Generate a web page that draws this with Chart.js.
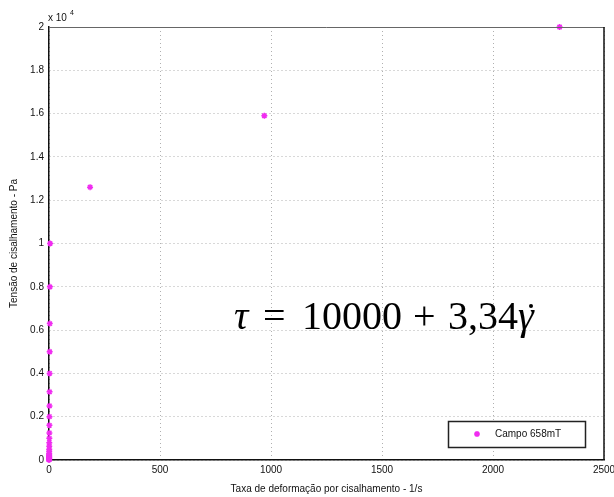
<!DOCTYPE html>
<html>
<head>
<meta charset="utf-8">
<script src="https://cdn.jsdelivr.net/npm/chart.js@4"></script>
<style>
  html, body { margin: 0; padding: 0; background: #fff; }
  #wrap { width: 614px; height: 497px; position: relative; }
</style>
</head>
<body>
<div id="wrap"><canvas id="chart"></canvas></div>
<script>
// data (shear rate in 1/s, shear stress in Pa)
const seriesLabel = 'Campo 658mT';
const shearRate = [0.1, 0.1, 0.2, 0.2, 0.3, 0.3, 0.4, 0.4, 0.5, 0.5, 0.6, 0.7, 0.8, 0.9, 1.0, 1.1, 1.2, 1.4, 1.6, 1.8, 2.0, 2.2, 2.5, 2.8, 3.0, 3.5, 4.0, 5.0, 185, 970, 2300];
const shearStress = [10, 20, 30, 40, 50, 63, 80, 100, 125, 160, 200, 250, 315, 400, 500, 630, 800, 1000, 1250, 1600, 2000, 2500, 3150, 4000, 5000, 6300, 8000, 10000, 12600, 15900, 20000];
const xTicks = [0, 500, 1000, 1500, 2000, 2500];
const xTitle = 'Taxa de deformação por cisalhamento - 1/s';
const yTitle = 'Tensão de cisalhamento - Pa';

const magenta = '#f02cf0';
const tickFont = { family: 'Liberation Sans', size: 10 };

// frame, exponent label, equation and legend box
const extras = {
    id: 'extras',
    afterDraw(chart) {
        const ctx = chart.ctx;
        const a = chart.chartArea;
        ctx.save();
        // top and right frame
        ctx.lineWidth = 1;
        ctx.strokeStyle = '#666';
        ctx.beginPath();
        ctx.moveTo(a.left, a.top + 0.5);
        ctx.lineTo(a.right, a.top + 0.5);
        ctx.stroke();
        ctx.strokeStyle = '#111';
        ctx.lineWidth = 1.5;
        ctx.beginPath();
        ctx.moveTo(a.right, a.top);
        ctx.lineTo(a.right, a.bottom);
        ctx.stroke();

        // x 10^4
        ctx.fillStyle = '#111';
        ctx.font = '10px "Liberation Sans"';
        ctx.textBaseline = 'alphabetic';
        ctx.fillText('x 10', a.left - 1, a.top - 6);
        ctx.font = '7px "Liberation Sans"';
        ctx.fillText('4', a.left + 21, a.top - 12);

        // equation  τ = 10000 + 3,34 γ̇
        const y = 329;
        ctx.fillStyle = '#000';
        ctx.font = 'italic 40px "Liberation Serif"';
        ctx.fillText('τ', 234, y);
        ctx.font = '40px "Liberation Serif"';
        ctx.fillText('=', 263, y);
        ctx.fillText('10000', 302, y);
        ctx.fillText('+', 413, y);
        ctx.fillText('3,34', 448, y);
        ctx.font = 'italic 40px "Liberation Serif"';
        ctx.fillText('γ', 518, y);
        ctx.beginPath();
        ctx.arc(531, y - 23, 2, 0, Math.PI * 2);
        ctx.fill();

        // legend box
        const lx = 448, ly = 421, lw = 137, lh = 26;
        ctx.fillStyle = '#fff';
        ctx.fillRect(lx, ly, lw, lh);
        ctx.strokeStyle = '#222';
        ctx.lineWidth = 1.5;
        ctx.strokeRect(lx + 0.5, ly + 0.5, lw, lh);
        ctx.strokeStyle = magenta;
        ctx.fillStyle = magenta;
        ctx.lineWidth = 1.5;
        Chart.helpers.drawPoint(ctx, { pointStyle: 'star', radius: 3, rotation: 0, borderWidth: 1.5 }, lx + 29, ly + 13);
        ctx.fillStyle = '#111';
        ctx.font = '10px "Liberation Sans"';
        ctx.textBaseline = 'middle';
        ctx.fillText(chart.data.datasets[0].label, lx + 47, ly + 13);
        ctx.restore();
    }
};

new Chart(document.getElementById('chart'), {
    type: 'scatter',
    data: {
        datasets: [{
            label: seriesLabel,
            data: shearRate.map((r, i) => ({ x: r, y: shearStress[i] })),
            pointStyle: 'star',
            pointRadius: 3,
            pointBorderWidth: 1.5,
            borderColor: magenta,
            backgroundColor: magenta,
            clip: false
        }]
    },
    options: {
        responsive: true,
        maintainAspectRatio: false,
        animation: false,
        layout: { padding: { left: 0, right: 10, top: 27, bottom: 2 } },
        plugins: {
            legend: { display: false },
            tooltip: { enabled: false }
        },
        scales: {
            x: {
                type: 'linear',
                min: xTicks[0],
                max: xTicks[xTicks.length - 1],
                afterBuildTicks(s) { s.ticks = xTicks.map(v => ({ value: v })); },
                ticks: { color: '#111', font: tickFont, padding: 4, maxRotation: 0, callback: v => String(v) },
                grid: { color: '#b0b0b0', drawTicks: false },
                border: { color: '#111', width: 1.5, dash: [1, 3] },
                title: { display: true, text: xTitle, color: '#111', font: tickFont, padding: { top: 2, bottom: 0 } },
                afterFit(s) { s.height = 35; s.paddingLeft = 0; s.paddingRight = 0; }
            },
            y: {
                min: 0,
                max: 20000,
                ticks: {
                    stepSize: 2000, color: '#111', font: tickFont, padding: 5,
                    callback: v => parseFloat((v / 1e4).toFixed(1)).toString()
                },
                grid: { color: '#b0b0b0', drawTicks: false },
                border: { color: '#111', width: 1.5, dash: [1, 3] },
                title: { display: true, text: yTitle, color: '#111', font: tickFont, padding: { top: 8, bottom: 0 } },
                afterFit(s) { s.width = 49; }
            }
        }
    },
    plugins: [extras]
});
</script>
</body>
</html>
